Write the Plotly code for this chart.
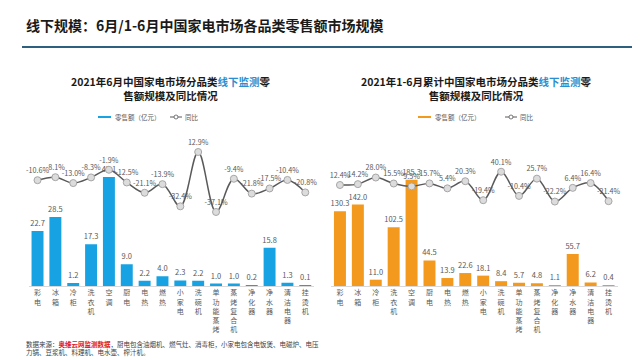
import plotly.graph_objects as go

categories = ["彩电", "冰箱", "冷柜", "洗衣机", "空调", "厨电", "电热", "燃热", "小家电",
              "洗碗机", "单功能蒸烤", "蒸烤复合机", "净化器", "净水器", "清洁电器", "挂烫机"]
june_sales = [22.7, 28.5, 1.2, 17.3, 45.1, 9.0, 2.2, 4.0, 2.3, 2.2, 1.0, 1.0, 0.2, 15.8, 1.3, 0.1]
june_yoy = [-10.6, -8.1, -13.0, -8.3, -1.9, -12.5, -21.1, -13.9, -32.4, 12.9, -37.1, -9.4,
            -21.8, -17.5, -10.4, -20.8]
h1_sales = [130.3, 142.0, 11.0, 102.5, 185.3, 44.5, 13.9, 22.6, 18.1, 8.4, 5.7, 4.8, 1.1, 55.7, 6.2, 0.4]
h1_yoy = [12.4, 14.2, 28.0, 15.5, 9.5, 15.7, 5.4, 20.3, -19.4, 40.1, -10.4, 25.7, -22.2, 6.4, 16.4, -21.4]

FONT = "Noto Sans CJK SC"
W, H = 640, 360
BLUE = "#17a3e3"
ORANGE = "#f39a1e"
GRAY_TXT = "#595959"

ticktext = ["<br>".join(list(c)) for c in categories]
xidx = list(range(len(categories)))

def py(ypix):
    return 1 - ypix / H

def px(xpix):
    return xpix / W

fig = go.Figure()

def add_panel(sales, yoy, color, xa, ya_bar, ya_line):
    fig.add_trace(go.Bar(
        x=xidx, y=sales, xaxis=xa, yaxis=ya_bar, marker=dict(color=color, line=dict(width=0)),
        text=[f"{v:.1f}" for v in sales], textposition="outside", cliponaxis=False,
        constraintext="none",
        textfont=dict(size=7.5, color=GRAY_TXT, family=FONT), showlegend=False,
    ))
    fig.add_trace(go.Scatter(
        x=xidx, y=yoy, xaxis=xa, yaxis=ya_line, mode="lines+markers+text",
        line=dict(color="#5a5a5a", width=1.5, shape="spline", smoothing=1.0),
        marker=dict(size=7, color="#dcdcdc", line=dict(color="#a6a6a6", width=1)),
        text=[f"{v:.1f}%" for v in yoy], textposition="top center",
        textfont=dict(size=7.2, color=GRAY_TXT, family=FONT), cliponaxis=False, showlegend=False,
    ))

add_panel(june_sales, june_yoy, BLUE, "x", "y", "y2")
add_panel(h1_sales, h1_yoy, ORANGE, "x2", "y3", "y4")

ydom = [py(278), py(120)]
xaxis_common = dict(tickmode="array", tickvals=xidx, ticktext=ticktext, range=[-0.5, 15.5],
                    showgrid=False, zeroline=False, showline=True, linecolor="#d9d9d9",
                    ticks="", tickangle=0,
                    tickfont=dict(size=7, color=GRAY_TXT, family=FONT))
fig.update_layout(
    width=W, height=H, margin=dict(l=0, r=0, t=0, b=0),
    paper_bgcolor="white", plot_bgcolor="white",
    bargap=0.33,
    font=dict(family=FONT),
    xaxis=dict(domain=[px(20.6), px(306.2)], anchor="y", **xaxis_common),
    xaxis2=dict(domain=[px(323), px(609.5)], anchor="y3", **xaxis_common),
    yaxis=dict(domain=ydom, range=[0, 65.3], visible=False),
    yaxis2=dict(domain=ydom, range=[-98.8, 32.9], overlaying="y", visible=False),
    yaxis3=dict(domain=ydom, range=[0, 275.6], anchor="x2", visible=False),
    yaxis4=dict(domain=ydom, range=[-198.7, 131.5], overlaying="y3", anchor="x2", visible=False),
)

annotations = []
shapes = []

# main title
annotations.append(dict(x=px(16), y=py(17), xref="paper", yref="paper", xanchor="left", yanchor="middle",
                        text="<b>线下规模：6月/1-6月中国家电市场各品类零售额市场规模</b>", showarrow=False,
                        font=dict(size=14, color="#1a1a1a", family=FONT)))
shapes.append(dict(type="line", xref="paper", yref="paper", x0=px(14), x1=px(628), y0=py(39), y1=py(39),
                   line=dict(color="#2d5f7e", width=2)))

# panel titles
for cx, t in [(162, "2021年6月中国家电市场分品类<span style='color:#2a8fd0'>线下监测</span>零<br>售额规模及同比情况"),
              (468, "2021年1-6月累计中国家电市场分品类<span style='color:#2a8fd0'>线下监测</span>零<br>售额规模及同比情况")]:
    annotations.append(dict(x=px(cx), y=py(81), xref="paper", yref="paper", xanchor="center", yanchor="middle",
                            text="<b>" + t + "</b>", showarrow=False, align="center",
                            font=dict(size=10.5, color="#1a1a1a", family=FONT)))

# legends
for (rx, col, lx) in [(90, BLUE, 162), (410, ORANGE, 497)]:
    shapes.append(dict(type="rect", xref="paper", yref="paper", x0=px(rx), x1=px(rx + 13),
                       y0=py(110), y1=py(108), fillcolor=col, line=dict(width=0)))
    annotations.append(dict(x=px(rx + 15), y=py(109), xref="paper", yref="paper", xanchor="left",
                            yanchor="middle", text="零售额（亿元）", showarrow=False,
                            font=dict(size=6.5, color=GRAY_TXT, family=FONT)))
    shapes.append(dict(type="line", xref="paper", yref="paper", x0=px(lx), x1=px(lx + 12),
                       y0=py(109), y1=py(109), line=dict(color="#595959", width=1)))
    shapes.append(dict(type="circle", xref="paper", yref="paper", x0=px(lx + 4), x1=px(lx + 8),
                       y0=py(111), y1=py(107), fillcolor="white", line=dict(color="#595959", width=0.8)))
    annotations.append(dict(x=px(lx + 13), y=py(109), xref="paper", yref="paper", xanchor="left",
                            yanchor="middle", text="同比", showarrow=False,
                            font=dict(size=6.5, color=GRAY_TXT, family=FONT)))

# footnote
annotations.append(dict(x=px(16), y=py(340), xref="paper", yref="paper", xanchor="left", yanchor="middle",
                        align="left", showarrow=False,
                        text="数据来源：<span style='color:#e0141e'><b>奥维云网监测数据</b></span>，厨电包含油烟机、燃气灶、消毒柜，小家电包含电饭煲、电磁炉、电压<br>力锅、豆浆机、料理机、电水壶、榨汁机。",
                        font=dict(size=6.5, color="#404040", family=FONT)))

fig.update_layout(annotations=annotations, shapes=shapes)
fig.write_html("out.html")
